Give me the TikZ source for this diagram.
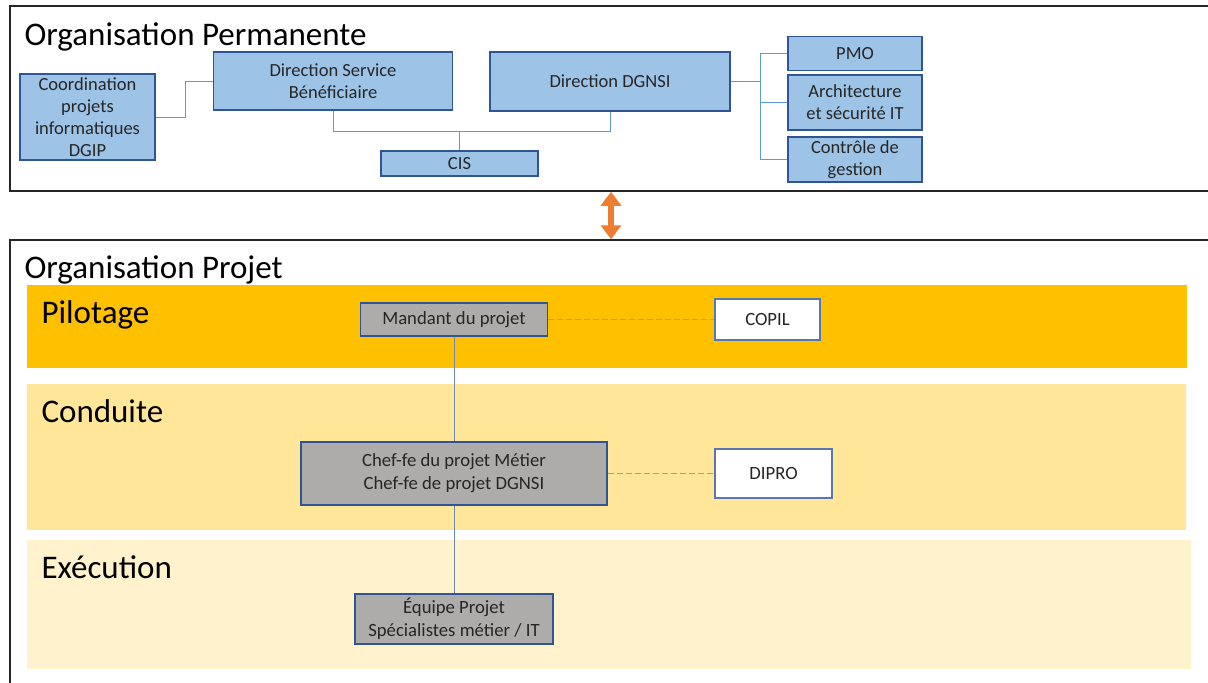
\documentclass[tikz,border=0pt]{standalone}
\usepackage{fontspec}
\setmainfont{Carlito}
\usetikzlibrary{
  positioning
  , calc
  , arrows.meta
}

\definecolor{boxblue}{HTML}{9DC3E6}
\definecolor{edgeblue}{HTML}{2F5597}
\definecolor{lineblue}{HTML}{5B9BD5}
\definecolor{pilotcol}{HTML}{FFC000}
\definecolor{condcol}{HTML}{FFE699}
\definecolor{execcol}{HTML}{FFF2CC}
\definecolor{boxgray}{HTML}{AEABAB}
\definecolor{arrorange}{HTML}{ED7D31}

\tikzset{
  frame/.style={draw=black!85, line width=1.5pt, inner sep=0pt},
  orgbox/.style={draw=edgeblue, fill=boxblue, line width=1.3pt,
    align=center, inner sep=0pt, text=black!85,
    font=\fontsize{18.5}{22}\selectfont},
  projbox/.style={draw=edgeblue, fill=boxgray, line width=1.3pt,
    align=center, inner sep=0pt, text=black!85,
    font=\fontsize{18.7}{23}\selectfont},
  cttbox/.style={projbox, draw=edgeblue!80, fill=white},
  link/.style={draw=lineblue, line width=1pt},
  dashlink/.style={draw=gray!75, dash pattern=on 6pt off 3pt, line width=1.2pt},
  title/.style={anchor=base west, font=\fontsize{33}{36}\selectfont},
}

\begin{document}
\begin{tikzpicture}[x=1pt, y=-1pt]
      \useasboundingbox (0,0) rectangle (1208,683);

      % cadres
      \node [frame, minimum width=1202pt, minimum height=185pt] (perm) at (611,98.5) {};
      \node [frame, minimum width=1202pt, minimum height=460pt] (proj) at (611,470) {};
      \node [title] (tperm) at (21,45) {Organisation Permanente};
      \node [title] (tproj) at (21,278) {Organisation Projet};

      % organisation permanente
      \node [orgbox, minimum width=135pt, minimum height=86pt] (CPI) at (87.5,117)
        {Coordination\\projets\\informatiques\\DGIP};
      \node [orgbox, minimum width=239pt, minimum height=58pt] (DSB) at (333,81)
        {Direction Service\\Bénéficiaire};
      \node [orgbox, minimum width=240pt, minimum height=59pt] (DGNSI) at (610,81.5)
        {Direction DGNSI};
      \node [orgbox, minimum width=157pt, minimum height=25pt] (CIS) at (459.5,163.5) {CIS};
      \node [orgbox, minimum width=134pt, minimum height=34pt] (PMO) at (855,53.5) {PMO};
      \node [orgbox, minimum width=134pt, minimum height=55pt] (ASIT) at (855,102.5)
        {Architecture\\et sécurité IT};
      \node [orgbox, minimum width=134pt, minimum height=45pt] (CG) at (855,159.5)
        {Contrôle de\\gestion};
      \coordinate (bus) at (760,0);

      \draw [link] (CPI.east) -- ++(30,0) |- (DSB.west);
      \draw [link] (DSB.south) -- ++(0,21) coordinate (tee) -| (DGNSI.south);
      \draw [link] (CIS.north) -- (CIS.north |- tee);
      \draw [link] (DGNSI.east) -- (DGNSI.east -| bus);
      \draw [link] (PMO.west) -- (PMO.west -| bus) -- (CG.west -| bus) -- (CG.west);
      \draw [link] (ASIT.west) -- (ASIT.west -| bus);

      % lien entre les deux organisations
      \draw [arrorange, line width=6pt,
        {Triangle[length=14pt,width=20pt]}-{Triangle[length=14pt,width=20pt]}]
        (perm.south) -- (proj.north);

      % niveaux
      \fill [pilotcol] (27,285) rectangle (1187,368);
      \fill [condcol] (27,384) rectangle (1186,530);
      \fill [execcol] (27,540) rectangle (1191,669);
      \node [title] (lpil) at (38,323) {Pilotage};
      \node [title] (lcond) at (38,422) {Conduite};
      \node [title] (lexec) at (38,578) {Exécution};

      % organisation projet
      \node [projbox, minimum width=187pt, minimum height=33pt] (MP) at (454,319.5)
        {Mandant du projet};
      \node [cttbox, minimum width=105pt, minimum height=41pt] (COPIL) at (767.5,319.5) {COPIL};
      \node [projbox, minimum width=306pt, minimum height=63pt] (CP) at (454,473.5)
        {Chef-fe du projet Métier\\Chef-fe de projet DGNSI};
      \node [cttbox, minimum width=117pt, minimum height=49pt] (DIPRO) at (773.5,473.5) {DIPRO};
      \node [projbox, minimum width=198pt, minimum height=50pt] (EP) at (454,619)
        {Équipe Projet\\Spécialistes métier / IT};

      \draw [link, draw=edgeblue!70] (MP.south) -- (CP.north);
      \draw [link, draw=edgeblue!70] (CP.south) -- (EP.north);
      \draw [dashlink] (MP.east) -- (COPIL.west);
      \draw [dashlink] (CP.east) -- (DIPRO.west);
    \end{tikzpicture}
\end{document}
